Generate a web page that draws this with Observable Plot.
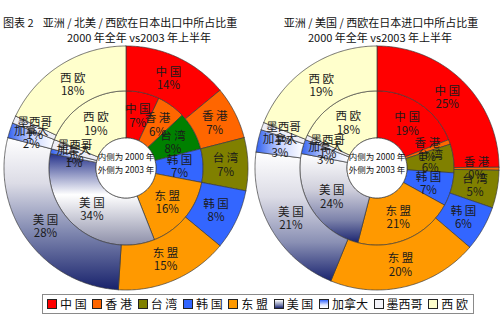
<!DOCTYPE html>
<html><head><meta charset="utf-8">
<script src="https://cdn.jsdelivr.net/npm/d3@7"></script>
<script src="https://cdn.jsdelivr.net/npm/@observablehq/plot@0.6"></script>
<style>
body{margin:0;background:#fff;font-family:"Noto Sans CJK SC","Noto Sans",sans-serif;color:#111;}
#wrap{position:relative;width:500px;height:317px;overflow:hidden;}
.t{position:absolute;white-space:nowrap;font-size:11px;line-height:15px;transform:translateX(-50%);}
#chart{position:absolute;left:0;top:42px;}
#legend{position:absolute;left:42px;top:294px;width:432px;height:20px;border:1.5px solid #8a8a8a;box-sizing:border-box;display:flex;align-items:center;justify-content:space-between;padding:0 5px 0 4px;font-size:12px;line-height:14px;}
.it{display:flex;align-items:center;white-space:nowrap;}
.sw{width:8px;height:8px;border:1px solid #222;margin-right:3px;}
</style></head><body>
<div id="wrap">
  <div class="t" style="left:3px;top:15px;transform:none">图表 2</div>
  <div class="t" style="left:140px;top:15px">亚洲 / 北美 / 西欧在日本出口中所占比重</div>
  <div class="t" style="left:139px;top:30px">2000 年全年 vs2003 年上半年</div>
  <div class="t" style="left:381px;top:15px">亚洲 / 美国 / 西欧在日本进口中所占比重</div>
  <div class="t" style="left:380px;top:30px">2000 年全年 vs2003 年上半年</div>
  <div id="chart"></div>
  <div id="legend"></div>
</div>
<script>
// ---- data ----
const categories = ["中国","香港","台湾","韩国","东盟","美国","加拿大","墨西哥","西欧"];
const export2000 = [7,6,8,7,16,34,1,2,19];   // inner ring, left
const export2003 = [14,7,7,8,15,28,2,1,18];  // outer ring, left
const import2000 = [19,1,6,7,21,24,3,1,18];  // inner ring, right
const import2003 = [25,0.4,5,6,20,21,3,1,19];// outer ring, right
const holeLabels = ["内侧为 2000 年","外侧为 2003 年"];

// ---- styles ----
const baseColors = {"中国":"#ff0000","香港":"#ff6600","台湾":"#808000","韩国":"#3366ff","东盟":"#ff9900","美国":"url(#gUSoutL)","加拿大":"url(#gCA)","墨西哥":"#eeeef6","西欧":"#ffffcc"};
const legendCss = {"美国":"linear-gradient(#ffffff,#8088b0 60%,#1a2470)","加拿大":"linear-gradient(#3366ff,#dde4ff 60%,#fff)","墨西哥":"#f4f4fa"};

const R = 122, W = 500, H = 252, CY = 125.5, CX1 = 125.5, CX2px = 376.5;
const cx2 = (CX2px - CX1) / R;
const rHole = 0.246, rMid = 0.632, rOut = 1;

const rings = [
  {values: export2000, cx: 0,   r0: rHole, r1: rMid, over: {"台湾":"#008000","美国":"url(#gUSinL)"}},
  {values: export2003, cx: 0,   r0: rMid,  r1: rOut, over: {"美国":"url(#gUSoutL)"}},
  {values: import2000, cx: cx2, r0: rHole, r1: rMid, over: {"美国":"url(#gUSinR)"}},
  {values: import2003, cx: cx2, r0: rMid,  r1: rOut, over: {"美国":"url(#gUSoutR)"}}
];

const label = n => n.length === 2 ? n[0] + " " + n[1] : n;
const pie = d3.pie().sort(null).value(d => d);

function arcPts(cx, r0, r1, a0, a1) {
  const pts = [];
  const n = Math.max(2, Math.ceil((a1 - a0) / 0.01));
  for (let i = 0; i <= n; i++) { const a = a0 + (a1 - a0) * i / n; pts.push({x: cx + r1 * Math.sin(a), y: r1 * Math.cos(a)}); }
  for (let i = n; i >= 0; i--) { const a = a0 + (a1 - a0) * i / n; pts.push({x: cx + r0 * Math.sin(a), y: r0 * Math.cos(a)}); }
  pts.push(pts[0]);
  return pts;
}

const marks = [];
const texts = [];
for (const ring of rings) {
  const arcs = pie(ring.values);
  arcs.forEach((a, i) => {
    const name = categories[i];
    const fill = ring.over[name] || baseColors[name];
    marks.push(Plot.line(arcPts(ring.cx, ring.r0, ring.r1, a.startAngle, a.endAngle),
      {x: "x", y: "y", fill, stroke: "#3a3a3a", strokeWidth: 0.7, curve: "linear"}));
    const m = (a.startAngle + a.endAngle) / 2, rr = (ring.r0 + ring.r1) / 2;
    texts.push({x: ring.cx + rr * Math.sin(m), y: rr * Math.cos(m), t: label(name) + "\n" + Math.round(ring.values[i]) + "%"});
  });
}
// hole circles
const holes = [0, cx2].map(cx => {
  const pts = [];
  for (let i = 0; i <= 120; i++) { const a = 2 * Math.PI * i / 120; pts.push({x: cx + rHole * Math.sin(a), y: rHole * Math.cos(a)}); }
  return pts;
});
holes.forEach(h => marks.push(Plot.line(h, {x: "x", y: "y", fill: "#ffffff", stroke: "#3a3a3a", strokeWidth: 0.7})));

const holeText = [];
[0, cx2].forEach(cx => {
  holeText.push({x: cx, y: 0.085, t: holeLabels[0]});
  holeText.push({x: cx, y: -0.022, t: holeLabels[1]});
});

marks.push(Plot.text(texts, {x: "x", y: "y", text: "t", fontSize: 11.5, lineHeight: 1.15, fill: "#1b1b1b"}));
marks.push(Plot.text(holeText, {x: "x", y: "y", text: "t", fontSize: 8.5, fill: "#111"}));

const chart = Plot.plot({
  width: W, height: H, margin: 0,
  x: {domain: [-CX1 / R, (W - CX1) / R], axis: null},
  y: {domain: [-(H - CY) / R, CY / R], axis: null},
  style: {fontFamily: '"Noto Sans CJK SC","Noto Sans",sans-serif', background: "transparent"},
  marks
});
const defs = document.createElementNS("http://www.w3.org/2000/svg", "defs");
defs.innerHTML = `
<linearGradient id="gUSoutL" x1="0" y1="0" x2="0" y2="1"><stop offset="0" stop-color="#ffffff"/><stop offset="0.3" stop-color="#dcdce6"/><stop offset="0.62" stop-color="#8088b0"/><stop offset="1" stop-color="#18226c"/></linearGradient>
<linearGradient id="gUSinL" x1="0" y1="0" x2="0" y2="1"><stop offset="0" stop-color="#24318a"/><stop offset="0.45" stop-color="#ffffff"/><stop offset="1" stop-color="#8c8ea8"/></linearGradient>
<linearGradient id="gUSoutR" x1="0" y1="0" x2="0" y2="1"><stop offset="0" stop-color="#ffffff"/><stop offset="0.35" stop-color="#dcdce6"/><stop offset="0.7" stop-color="#8a90b4"/><stop offset="1" stop-color="#1a2470"/></linearGradient>
<linearGradient id="gUSinR" x1="0" y1="0" x2="0" y2="1"><stop offset="0" stop-color="#ffffff"/><stop offset="0.4" stop-color="#d0d0dc"/><stop offset="0.75" stop-color="#7c82aa"/><stop offset="1" stop-color="#1a2470"/></linearGradient>
<linearGradient id="gCA" x1="0" y1="0" x2="1" y2="0"><stop offset="0" stop-color="#3060f0"/><stop offset="0.5" stop-color="#c8d4ff"/><stop offset="1" stop-color="#ffffff"/></linearGradient>`;
chart.insertBefore(defs, chart.firstChild);
document.getElementById("chart").appendChild(chart);

// legend
const lg = document.getElementById("legend");
categories.forEach(n => {
  const it = document.createElement("div"); it.className = "it";
  const sw = document.createElement("div"); sw.className = "sw";
  const c = legendCss[n] || baseColors[n];
  sw.style.background = c;
  const tx = document.createElement("span"); tx.textContent = label(n);
  it.appendChild(sw); it.appendChild(tx); lg.appendChild(it);
});
</script>
</body></html>
